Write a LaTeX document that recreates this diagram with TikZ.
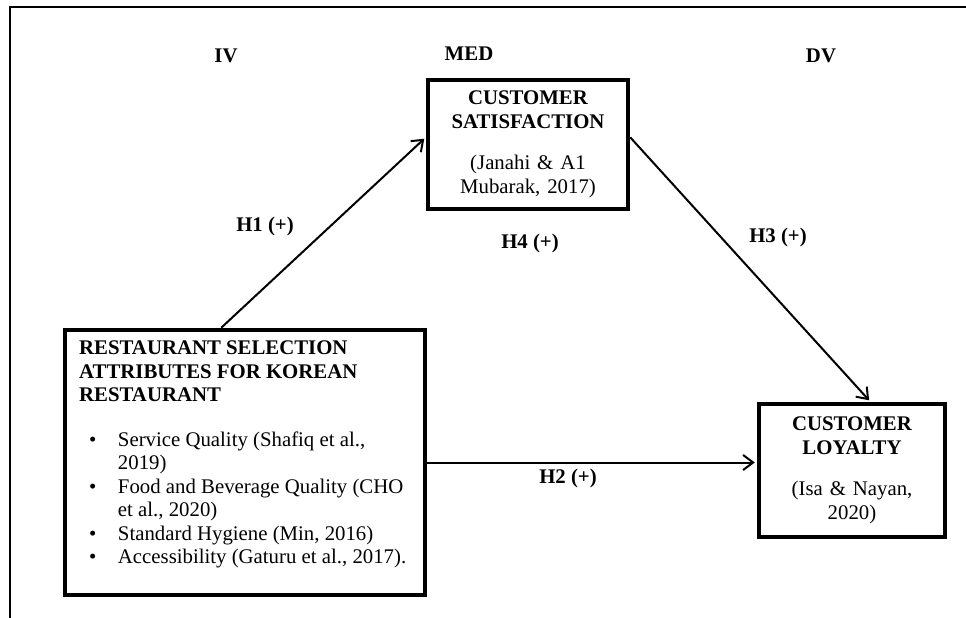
\documentclass[tikz,border=0pt]{standalone}
\usepackage{fontspec}
\setmainfont{Liberation Serif}
\usetikzlibrary{arrows.meta}

\tikzset{
  varbox/.style={draw, line width=4.5pt, align=center, inner sep=0pt,
    font=\fontsize{20.8}{24}\selectfont},
  lbl/.style={font=\bfseries\fontsize{20.8}{24}\selectfont, inner sep=0pt},
  link/.style={-{Straight Barb[length=10pt,width=15pt,line width=2pt]},
    line width=2pt, shorten >=2pt}
}

\begin{document}
\begin{tikzpicture}[x=1pt, y=-1pt]
  \useasboundingbox (0,0) rectangle (966,618);
  % frame
  \draw[line width=2.5pt] (10,618) -- (10,7) -- (966,7);

  % column heads
  \node[lbl] (ivhead) at (226,56) {IV};
  \node[lbl] (medhead) at (469,54) {MED};
  \node[lbl] (dvhead) at (821,56) {DV};

  % boxes
  \node[varbox, minimum width=360pt, minimum height=265pt] (iv) at (245,462.5) {};
  \node[anchor=north west, align=left, inner sep=0pt,
    font=\fontsize{20.8}{23.5}\selectfont] (ivtext) at (79,341)
    {\textbf{RESTAURANT SELECTION}\\
     \textbf{ATTRIBUTES FOR KOREAN}\\
     \textbf{RESTAURANT}\\[21pt]
     \begin{tabular}[t]{@{\hspace{10pt}}l@{\hspace{21.5pt}}l@{}}
       \textbullet & Service Quality (Shafiq et al.,\\
                   & 2019)\\
       \textbullet & Food and Beverage Quality (CHO\\
                   & et al., 2020)\\
       \textbullet & Standard Hygiene (Min, 2016)\\
       \textbullet & Accessibility (Gaturu et al., 2017).
     \end{tabular}};

  \node[varbox, minimum width=200pt, minimum height=129pt, text width=196pt] (med) at (528,144.5)
    {\textbf{CUSTOMER}\\ \textbf{SATISFACTION}\\[17pt] (Janahi \& A1\\ Mubarak, 2017)};

  \node[varbox, minimum width=186pt, minimum height=133pt, text width=182pt] (dv) at (852,470.5)
    {\textbf{CUSTOMER}\\ \textbf{LOYALTY}\\[17pt] (Isa \& Nayan,\\ 2020)};

  % paths
  \draw[link] (iv.100) -- (med.176);
  \draw[link] (med.4) -- (dv.75);
  \draw[link] (iv.east) -- (iv.east -| dv.west);

  \node[lbl] (h1) at (265,226) {H1 (+)};
  \node[lbl] (h4) at (530,243) {H4 (+)};
  \node[lbl] (h3) at (778,237) {H3 (+)};
  \node[lbl] (h2) at (568,478) {H2 (+)};
\end{tikzpicture}
\end{document}
